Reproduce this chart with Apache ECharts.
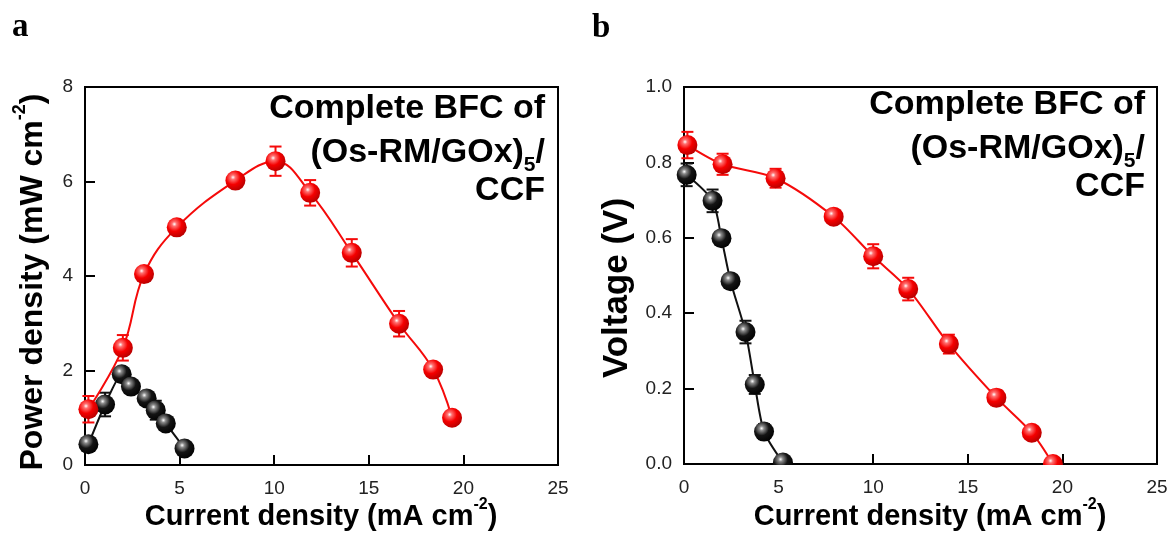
<!DOCTYPE html>
<html>
<head>
<meta charset="utf-8">
<script src="https://cdn.jsdelivr.net/npm/echarts@6/dist/echarts.min.js"></script>
<style>
  html, body { margin: 0; padding: 0; background: #ffffff; }
  #chart { width: 1173px; height: 549px; }
</style>
</head>
<body>
<div id="chart"></div>
<script>
// ---- Panel a: power density vs current density ----
const powerRedX   = [0.18, 2.0, 3.12, 4.85, 7.95, 10.07, 11.9, 14.1, 16.6, 18.4, 19.4];
const powerRedY   = [1.18, 2.48, 4.04, 5.03, 6.02, 6.43, 5.76, 4.49, 2.99, 2.02, 1.0];
const powerRedErr = [0.28, 0.27, 0.08, 0.08, 0.10, 0.31, 0.27, 0.29, 0.27, 0.12, 0.04];

const powerBlackX   = [0.18, 1.06, 1.94, 2.43, 3.26, 3.74, 4.27, 5.26];
const powerBlackY   = [0.44, 1.28, 1.92, 1.66, 1.41, 1.16, 0.88, 0.35];
const powerBlackErr = [0.10, 0.25, 0.14, 0.10, 0.10, 0.20, 0.10, 0.05];

// ---- Panel b: voltage vs current density ----
const voltRedX   = [0.18, 2.04, 4.84, 7.91, 10.0, 11.85, 14.0, 16.51, 18.38, 19.5];
const voltRedY   = [0.846, 0.795, 0.758, 0.656, 0.551, 0.464, 0.318, 0.176, 0.083, 0.0];
const voltRedErr = [0.035, 0.028, 0.025, 0.012, 0.032, 0.030, 0.025, 0.020, 0.015, 0.0];

const voltBlackX   = [0.14, 1.51, 1.98, 2.46, 3.25, 3.74, 4.23, 5.23];
const voltBlackY   = [0.767, 0.698, 0.599, 0.485, 0.350, 0.211, 0.086, 0.004];
const voltBlackErr = [0.030, 0.030, 0.012, 0.012, 0.030, 0.025, 0.020, 0.010];

// Axis tick values
const xTicks  = [0, 5, 10, 15, 20, 25];
const yTicksA = [0, 2, 4, 6, 8];
const yTicksB = [0.0, 0.2, 0.4, 0.6, 0.8, 1.0];

const annotationLines = ['Complete BFC of', '(Os-RM/GOx)', '5', '/', 'CCF'];

const RED = '#f50a0a';
const BLACK = '#111111';
const SANS = '"Liberation Sans", Arial, sans-serif';
const SERIF = '"Liberation Serif", "Times New Roman", serif';

const chart = echarts.init(document.getElementById('chart'), null, { renderer: 'canvas' });

function zip(xs, ys) { return xs.map((x, i) => [x, ys[i]]); }
function zip3(xs, ys, es) { return xs.map((x, i) => [x, ys[i], es[i]]); }

// glossy ball fill for the markers
function sphere(base, mid, edge) {
  return new echarts.graphic.RadialGradient(0.38, 0.34, 0.72, [
    { offset: 0, color: '#ffffff' },
    { offset: 0.16, color: mid },
    { offset: 0.5, color: base },
    { offset: 1, color: edge }
  ]);
}
const redBall = sphere('#f50000', '#ff7070', '#b00000');
const blackBall = sphere('#141414', '#8a8a8a', '#000000');

function errorBars(idx, data, color) {
  return {
    type: 'custom',
    xAxisIndex: idx, yAxisIndex: idx,
    z: 3,
    silent: true,
    data: data,
    renderItem: function (params, api) {
      const x = api.value(0), y = api.value(1), e = api.value(2);
      if (!e) return null;
      const top = api.coord([x, y + e]);
      const bot = api.coord([x, y - e]);
      const hw = 6;
      const st = { stroke: color, lineWidth: 2 };
      return {
        type: 'group',
        children: [
          { type: 'line', shape: { x1: top[0], y1: top[1], x2: bot[0], y2: bot[1] }, style: st },
          { type: 'line', shape: { x1: top[0] - hw, y1: top[1], x2: top[0] + hw, y2: top[1] }, style: st },
          { type: 'line', shape: { x1: bot[0] - hw, y1: bot[1], x2: bot[0] + hw, y2: bot[1] }, style: st }
        ]
      };
    }
  };
}

function lineSeries(idx, data, color, ball, smooth) {
  return {
    type: 'line',
    xAxisIndex: idx, yAxisIndex: idx,
    data: data,
    smooth: smooth,
    z: 4,
    clip: false,
    symbol: 'circle',
    symbolSize: 20,
    lineStyle: { color: color, width: 2 },
    itemStyle: { color: ball, borderWidth: 0 },
    emphasis: { disabled: true }
  };
}

function xAxis(idx) {
  return {
    type: 'value', gridIndex: idx,
    min: 0, max: 25, interval: 5,
    axisLine: { show: true, onZero: false, lineStyle: { color: '#000', width: 2 } },
    axisTick: { show: true, inside: true, length: 10, lineStyle: { color: '#000', width: 2 } },
    axisLabel: {
      fontFamily: SANS, fontSize: 19, color: '#222', margin: 14,
      formatter: v => (xTicks.indexOf(v) >= 0 ? String(v) : '')
    },
    splitLine: { show: false }
  };
}

function yAxis(idx, max, interval, digits) {
  return {
    type: 'value', gridIndex: idx,
    min: 0, max: max, interval: interval,
    axisLine: { show: true, onZero: false, lineStyle: { color: '#000', width: 2 } },
    axisTick: { show: true, inside: true, length: 10, lineStyle: { color: '#000', width: 2 } },
    axisLabel: {
      fontFamily: SANS, fontSize: 19, color: '#222', margin: 12,
      formatter: v => v.toFixed(digits)
    },
    splitLine: { show: false }
  };
}

// axis titles with a superscript exponent
function titleRich(size) {
  return {
    m: { fontFamily: SANS, fontWeight: 'bold', fontSize: size, fill: '#000', lineHeight: size + 6, verticalAlign: 'bottom' },
    s: { fontFamily: SANS, fontWeight: 'bold', fontSize: Math.round(size * 0.55), fill: '#000', lineHeight: Math.round(size * 0.55), verticalAlign: 'top' }
  };
}
function axisTitle(text, x, y, size, rotate) {
  return {
    type: 'text', x: x, y: y, rotation: rotate ? Math.PI / 2 : 0,
    style: { text: text, rich: titleRich(size), align: 'center', verticalAlign: 'middle' }
  };
}

// measure text so the annotation block can be right-aligned piece by piece
const measureCtx = document.createElement('canvas').getContext('2d');
function textWidth(t, font) { measureCtx.font = font; return measureCtx.measureText(t).width; }

function annotation(right, y1, y2, y3) {
  const size = 34, sub = 21;
  const wSlash = textWidth(annotationLines[3], 'bold ' + size + 'px ' + SANS);
  const wSub = textWidth(annotationLines[2], 'bold ' + sub + 'px ' + SANS);
  function t(text, x, y, fs) {
    return {
      type: 'text', x: x, y: y,
      style: { text: text, fill: '#000', fontFamily: SANS, fontWeight: 'bold', fontSize: fs, align: 'right', verticalAlign: 'middle' }
    };
  }
  return [
    t(annotationLines[0], right, y1, size),
    t(annotationLines[3], right, y2, size),
    t(annotationLines[2], right - wSlash, y2 + 12, sub),
    t(annotationLines[1], right - wSlash - wSub, y2, size),
    t(annotationLines[4], right, y3, size)
  ];
}

const option = {
  animation: false,
  backgroundColor: '#ffffff',
  grid: [
    { left: 85, top: 87, width: 473, height: 378, show: true, borderColor: '#000', borderWidth: 2, backgroundColor: 'transparent' },
    { left: 684, top: 87, width: 473, height: 377, show: true, borderColor: '#000', borderWidth: 2, backgroundColor: 'transparent' }
  ],
  xAxis: [xAxis(0), xAxis(1)],
  yAxis: [yAxis(0, 8, 2, 0), yAxis(1, 1.0, 0.2, 1)],
  graphic: [
    // marks sitting on the zero line are cut off at the plot edge
    { type: 'rect', z: 50, shape: { x: 685, y: 465, width: 471, height: 12 }, style: { fill: '#ffffff' } },
    { type: 'text', x: 12, y: 44, style: { text: 'a', fill: '#000', fontFamily: SERIF, fontWeight: 'bold', fontSize: 33, verticalAlign: 'bottom' } },
    { type: 'text', x: 592, y: 45, style: { text: 'b', fill: '#000', fontFamily: SERIF, fontWeight: 'bold', fontSize: 33, verticalAlign: 'bottom' } },
    axisTitle('{m|Power density (mW cm}{s|-2}{m|)}', 30, 282, 32, true),
    axisTitle('{m|Current density (mA cm}{s|-2}{m|)}', 321, 514, 29, false),
    axisTitle('{m|Voltage (V)}', 614, 288, 35, true),
    axisTitle('{m|Current density (mA cm}{s|-2}{m|)}', 930, 514, 29, false)
  ].concat(annotation(545, 109, 153, 191), annotation(1145, 105, 149, 187)),
  series: [
    errorBars(0, zip3(powerBlackX, powerBlackY, powerBlackErr), BLACK),
    errorBars(0, zip3(powerRedX, powerRedY, powerRedErr), RED),
    lineSeries(0, zip(powerBlackX, powerBlackY), BLACK, blackBall, 0.2),
    lineSeries(0, zip(powerRedX, powerRedY), RED, redBall, 0.4),
    errorBars(1, zip3(voltBlackX, voltBlackY, voltBlackErr), BLACK),
    errorBars(1, zip3(voltRedX, voltRedY, voltRedErr), RED),
    lineSeries(1, zip(voltBlackX, voltBlackY), BLACK, blackBall, 0.25),
    lineSeries(1, zip(voltRedX, voltRedY), RED, redBall, 0.3)
  ]
};

chart.setOption(option);
</script>
</body>
</html>
